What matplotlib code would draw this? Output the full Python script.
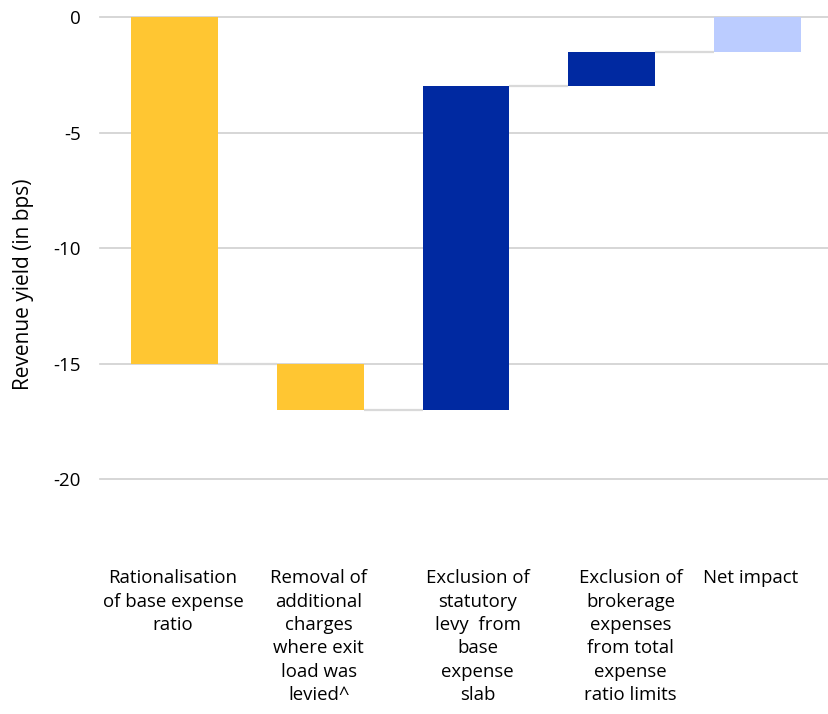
import matplotlib.pyplot as plt
import numpy as np

plt.rcParams['font.family'] = ['Open Sans', 'DejaVu Sans']

# waterfall steps (bps), last bar is the net total
categories = ["Rationalisation\nof base expense\nratio",
              "Removal of\nadditional\ncharges\nwhere exit\nload was\nlevied^",
              "Exclusion of\nstatutory\nlevy  from\nbase\nexpense\nslab",
              "Exclusion of\nbrokerage\nexpenses\nfrom total\nexpense\nratio limits",
              "Net impact"]
changes = [-15, -2, 14, 1.5]
colors = ["#FFC632", "#FFC632", "#0029A1", "#0029A1", "#BBCCFF"]
yticks = [0, -5, -10, -15, -20]

ends = np.cumsum(changes)
starts = np.concatenate([[0], ends[:-1]])
net = ends[-1]
bottoms = list(starts) + [0]
heights = list(changes) + [net]

fig = plt.figure(figsize=(8.29, 7.14), dpi=100)
ax = fig.add_axes([100 / 829, 1 - 537 / 714, 729 / 829, 520 / 714])

x = np.arange(len(categories))
ax.bar(x + 0.01, heights, bottom=bottoms, width=0.595, color=colors, zorder=3)

# connector lines between consecutive bars
levels = list(ends)
for i, lv in enumerate(levels):
    ax.plot([x[i] + 0.3075, x[i + 1] - 0.2875], [lv, lv], color="#D9D9D9",
            lw=1.6, zorder=2, solid_capstyle="butt")

ax.set_xlim(-0.5, len(categories) - 0.5)
ax.set_ylim(-22.5, 0)
ax.set_yticks(yticks)
ax.set_yticklabels([str(t) for t in yticks], fontsize=13.5)
ax.tick_params(axis="y", length=0, pad=14)
ax.set_xticks([])
for t in yticks:
    ax.axhline(t, color="#CFCFCF", lw=1.2, zorder=1, clip_on=False)
for s in ax.spines.values():
    s.set_visible(False)

ax.set_ylabel("Revenue yield (in bps)", fontsize=15)
ax.yaxis.set_label_coords(-0.09, 0.487)

label_shift = [0, 0, 0.09, 0.14, -0.04]
for xi, lab, dx in zip(x, categories, label_shift):
    ax.text(xi + dx, -23.9, lab, ha="center", va="top", fontsize=13.4,
            linespacing=1.38, clip_on=False)

fig.savefig("out.png", dpi=100)
